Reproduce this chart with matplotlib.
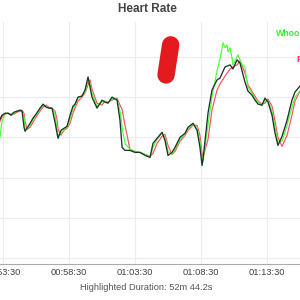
import matplotlib
matplotlib.use("Agg")
import matplotlib.pyplot as plt
from matplotlib.ticker import FixedLocator, FuncFormatter

plt.rcParams['font.family'] = ['Liberation Sans', 'DejaVu Sans']

# time in minutes since 00:00:00
t_ref = [53.27, 53.42, 53.65, 53.88, 54.11, 54.33, 54.56, 54.79, 54.94, 55.09,
         55.17, 55.32, 55.55, 55.77, 56.00, 56.30, 56.53, 56.76, 56.98, 57.21,
         57.44, 57.59, 57.67, 57.89, 58.12, 58.35, 58.58, 58.80, 58.95, 59.18,
         59.48, 59.71, 59.94, 60.09, 60.24, 60.62, 61.00, 61.23, 61.45, 61.76,
         62.14, 62.36, 62.52, 62.74, 63.12, 63.50, 63.88, 64.26, 64.64, 64.86,
         65.17, 65.55, 65.77, 66.00, 66.30, 66.53, 66.91, 67.29, 67.52, 67.89,
         68.20, 68.42, 68.58, 68.65, 69.03, 69.33, 69.71, 69.94, 70.32, 70.70,
         70.92, 71.23, 71.45, 71.83, 72.06, 72.36, 72.59, 72.82, 73.12, 73.35,
         73.58, 73.88, 74.11, 74.33, 74.64, 75.02, 75.39, 75.62, 76.00]

hr_ref = [129, 131, 132, 132, 131, 132.5, 133, 133.5, 133, 125,
          123, 124.5, 127, 129.5, 131.5, 134.5, 136.5, 135, 134.5, 134.5,
          127.5, 122, 119.5, 123.5, 124.5, 125.5, 131, 135.5, 136.5, 140,
          140.5, 143.5, 150, 145, 140, 134.5, 138.5, 137.5, 137, 140,
          138.5, 128.5, 115, 113.5, 113.5, 112.5, 112.5, 111, 110, 117,
          119.5, 122.5, 118.5, 111, 112.5, 115, 120, 122, 125, 127,
          123.5, 115, 106, 109, 132, 143.5, 148.5, 149.5, 155, 156,
          154, 158.5, 157, 147.5, 143, 141, 138.5, 136.5, 136, 139.5,
          137.5, 131, 122, 116, 120.5, 128.5, 138.5, 142.5, 145.5]

t_whoop = [53.27, 53.42, 53.65, 53.88, 54.11, 54.33, 54.56, 54.79, 54.94, 55.09,
           55.17, 55.32, 55.55, 55.77, 56.00, 56.30, 56.53, 56.76, 56.98, 57.21,
           57.44, 57.59, 57.67, 57.89, 58.12, 58.35, 58.58, 58.80, 58.95, 59.18,
           59.48, 59.71, 59.94, 60.09, 60.24, 60.62, 61.00, 61.23, 61.45, 61.76,
           62.14, 62.36, 62.52, 62.74, 63.12, 63.50, 63.88, 64.26, 64.64, 64.86,
           65.17, 65.55, 65.77, 66.00, 66.30, 66.53, 66.91, 67.29, 67.52, 67.89,
           68.20, 68.42, 68.58, 68.65, 69.03, 69.33, 69.71, 69.94, 70.17, 70.32,
           70.47, 70.55, 70.70, 70.85, 70.92, 71.30, 71.61, 71.83, 71.98, 72.06,
           72.36, 72.59, 72.82, 73.12, 73.35, 73.58, 73.88, 74.11, 74.33, 74.64,
           75.02, 75.39, 75.62, 76.00]

hr_whoop = [120, 128, 131.5, 132, 131, 132, 133, 133.5, 133, 130,
            124, 124, 126, 129, 131, 134, 136, 135.5, 134.5, 134.5,
            131, 124, 121, 122, 124, 125, 129, 134, 136, 139.5,
            140.5, 142.5, 148, 147, 142, 135.5, 137.5, 138, 137, 139.5,
            139, 133, 125, 117, 114, 113, 112.5, 111.5, 110.5, 115,
            119, 122, 120, 113, 111.5, 114, 119, 121.5, 124.5, 126.5,
            125, 118, 110, 108, 126, 140, 153, 159, 167, 164.5,
            166, 162.5, 164.5, 159.5, 156, 161, 156, 155, 147.5, 145,
            142, 139.5, 137.5, 136, 138.5, 138, 133, 125, 118, 118,
            126, 135, 140, 143]

hr_polar = [128, 130, 131.5, 132, 131.5, 131.5, 132.5, 133, 133.5, 132,
            128, 124, 125, 127.5, 130, 133, 135, 136, 135, 134.5,
            133, 129, 124, 121, 123.5, 124.5, 127, 132, 134.5, 138,
            140, 142, 146, 148.5, 144, 137, 136, 138, 137.5, 138.5,
            139.5, 136, 134, 126, 114, 113, 112.5, 111.5, 110.5, 112,
            117, 120.5, 121.5, 116, 111.5, 113, 118, 121, 123.5, 126,
            126, 121, 112, 110, 119, 133.5, 143.5, 146.5, 150.5, 154,
            155, 156, 158, 152, 146, 143, 140.5, 138, 136.5, 137,
            139, 135.5, 128, 120, 115.5, 121, 131, 138, 143]

x_ticks = [53.5, 58.5, 63.5, 68.5, 73.5]
y_grid = [60, 80, 100, 120, 140, 160]

# hand-drawn highlight stroke (minutes, bpm)
mark_t = [66.2, 65.85]
mark_hr = [166, 151]


def fmt_time(v, pos=None):
    s = int(round(v * 60))
    return "%02d:%02d:%02d" % (s // 3600, (s % 3600) // 60, s % 60)


fig = plt.figure(figsize=(3, 3), dpi=100)
ax = fig.add_axes([0, 0.12, 1.0, 0.807])

ax.plot(t_ref, hr_polar, color='#ff4f5e', lw=0.85, zorder=3)
ax.plot(t_whoop, hr_whoop, color='#4cff3a', lw=0.85, zorder=4)
ax.plot(t_ref, hr_ref, color='#1c332c', lw=0.95, zorder=5)

ax.plot(mark_t, mark_hr, color='#e31b1f', lw=12.5, solid_capstyle='round', zorder=6)

ax.set_xlim(53.27, 76.0)
ax.set_ylim(57.0, 177.4)
ax.xaxis.set_major_locator(FixedLocator(x_ticks))
ax.xaxis.set_major_formatter(FuncFormatter(fmt_time))
ax.yaxis.set_major_locator(FixedLocator(y_grid))
ax.set_yticklabels([])
ax.grid(True, color='#ececec', lw=0.8)
ax.set_axisbelow(True)
ax.tick_params(axis='both', length=0, labelsize=6.7, colors='#444444', pad=3)
ax.tick_params(axis='y', labelleft=False)
for side in ['top', 'right', 'left']:
    ax.spines[side].set_visible(False)
ax.spines['bottom'].set_color('#aaaaaa')
ax.spines['bottom'].set_linewidth(0.8)

fig.text(0.49, 0.97, "Heart Rate", ha='center', va='center', fontsize=8.5,
         fontweight='bold', color='#444444')
fig.text(0.487, 0.043, "Highlighted Duration: 52m 44.2s", ha='center', va='center',
         fontsize=6.7, color='#555555')
fig.text(0.92, 0.887, "Whoop", ha='left', va='center', fontsize=6.3,
         fontweight='bold', color='#33ee33')
fig.text(0.987, 0.803, "Polar", ha='left', va='center', fontsize=6.3,
         fontweight='bold', color='#ff3333')

fig.savefig("out.png", dpi=100)
